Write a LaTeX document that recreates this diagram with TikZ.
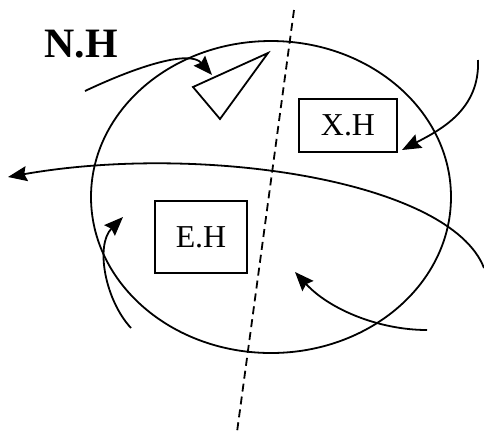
\documentclass[tikz,border=0pt]{standalone}
\usepackage{fontspec}
\setmainfont{Liberation Serif}
\usetikzlibrary{arrows.meta}

\begin{document}
\begin{tikzpicture}[x=1bp, y=-1bp,
        hbox/.style={draw, line width=1.8bp, inner sep=0pt,
                     font=\fontsize{32}{32}\selectfont},
        arr/.style={-{Stealth[length=19bp, width=15bp, inset=2.5bp]}, line width=1.8bp},
        cut/.style={dashed, line width=1.8bp, dash pattern=on 8bp off 5bp}
      ]
        \useasboundingbox (0,0) rectangle (484,432);
        \draw[line width=1.8bp] (271,197) ellipse [x radius=180, y radius=156];
        \coordinate (ctop) at (294,10);
        \coordinate (cbot) at (237,432);
        \draw[cut] (ctop)--(cbot);
        \node[font=\fontsize{42}{42}\selectfont\bfseries] (nh) at (81,44) {N.H};
        \node[hbox, minimum width=98bp, minimum height=53bp] (xh) at (348,125.5) {X.H};
        \node[hbox, minimum width=92bp, minimum height=72bp] (eh) at (201,237) {E.H};
        \draw[line width=1.8bp, line join=miter] (193,87) -- (268,53) -- (220,119) -- cycle;
        \coordinate (a1s) at (85,91);   \coordinate (a1e) at (212,75);
        \coordinate (a2s) at (484,268); \coordinate (a2e) at (8,177);
        \coordinate (a3s) at (478,60);  \coordinate (a3e) at (402,150);
        \coordinate (a4s) at (131,328); \coordinate (a4e) at (123,217);
        \coordinate (a5s) at (427,330); \coordinate (a5e) at (295,272);
        \draw[arr] (a1s) .. controls (140,65) and (190,50) .. (a1e);
        \draw[arr] (a2s) .. controls (450,180) and (200,143) .. (a2e);
        \draw[arr] (a3s) .. controls (480,110) and (440,130) .. (a3e);
        \draw[arr] (a4s) .. controls (105,300) and (95,245) .. (a4e);
        \draw[arr] (a5s) .. controls (380,330) and (330,310) .. (a5e);
      \end{tikzpicture}
\end{document}
